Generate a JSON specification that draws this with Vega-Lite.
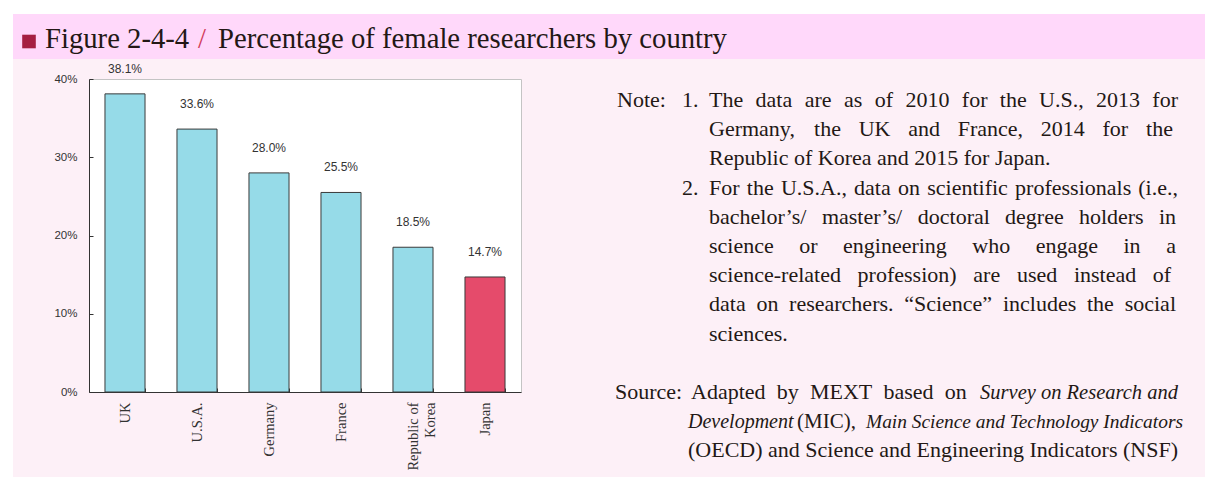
{
  "$schema": "https://vega.github.io/schema/vega-lite/v6.json",
  "padding": 0,
  "background": "#FDF0F7",
  "columns": 4,
  "spacing": 0,
  "bounds": "flush",
  "align": "each",
  "config": {"view": {"stroke": null}, "font": "Liberation Serif", "text": {"font": "Liberation Serif", "fontSize": 22, "color": "#231815", "baseline": "alphabetic", "align": "left"}},
  "concat": [
    {"width": 13, "height": 14, "view": {"fill": "#ffffff", "stroke": null}, "data": {"values": [{}]}, "mark": {"type": "text", "text": "", "fontSize": 1, "baseline": "middle"}},
    {"width": 76, "height": 14, "view": {"fill": "#ffffff", "stroke": null}, "data": {"values": [{}]}, "mark": {"type": "text", "text": "", "fontSize": 1, "baseline": "middle"}},
    {"width": 432, "height": 14, "view": {"fill": "#ffffff", "stroke": null}, "data": {"values": [{}]}, "mark": {"type": "text", "text": "", "fontSize": 1, "baseline": "middle"}},
    {"width": 684, "height": 14, "view": {"fill": "#ffffff", "stroke": null}, "data": {"values": [{}]}, "mark": {"type": "text", "text": "", "fontSize": 1, "baseline": "middle"}},

    {"width": 13, "height": 45, "view": {"fill": "#ffffff", "stroke": null}, "data": {"values": [{}]}, "mark": {"type": "text", "text": "", "fontSize": 1, "baseline": "middle"}},
    {"width": 76, "height": 45, "view": {"fill": "#FFD8FA", "stroke": null}, "data": {"values": [{}]}, "mark": {"type": "text", "text": "", "fontSize": 1, "baseline": "middle"}},
    {"width": 432, "height": 45, "view": {"fill": "#FFD8FA", "stroke": null}, "data": {"values": [{}]}, "mark": {"type": "text", "text": "", "fontSize": 1, "baseline": "middle"}},
    {
      "width": 684, "height": 45,
      "view": {"fill": "#FFD8FA", "stroke": null},
      "data": {"values": [{}]},
      "layer": [
        {"mark": {"type": "square", "size": 185, "x": -492, "y": 27.5, "color": "#A51F42", "opacity": 1, "filled": true}, "encoding": {}},
        {"mark": {"type": "text", "x": -476, "y": 34, "fontSize": 28.7, "text": "Figure 2-4-4"}, "encoding": {}},
        {"mark": {"type": "text", "x": -323, "y": 34, "fontSize": 28.7, "color": "#D23C5A", "text": "/"}, "encoding": {}},
        {"mark": {"type": "text", "x": -303, "y": 34, "fontSize": 28.7, "text": "Percentage of  female researchers by country"}, "encoding": {}}
      ]
    },

    {"width": 13, "height": 20, "view": {"fill": "#ffffff", "stroke": null}, "data": {"values": [{}]}, "mark": {"type": "text", "text": "", "fontSize": 1, "baseline": "middle"}},
    {"width": 76, "height": 20, "data": {"values": [{}]}, "mark": {"type": "text", "text": "", "fontSize": 1, "baseline": "middle"}},
    {"width": 432, "height": 20, "data": {"values": [{}]}, "mark": {"type": "text", "text": "", "fontSize": 1, "baseline": "middle"}},
    {"width": 684, "height": 20, "data": {"values": [{}]}, "mark": {"type": "text", "text": "", "fontSize": 1, "baseline": "middle"}},

    {"width": 13, "height": 398, "view": {"fill": "#ffffff", "stroke": null}, "data": {"values": [{}]}, "mark": {"type": "text", "text": "", "fontSize": 1, "baseline": "middle"}},
    {"width": 76, "height": 398, "data": {"values": [{}]}, "mark": {"type": "text", "text": "", "fontSize": 1, "baseline": "middle"}},
    {
      "width": 432, "height": 313,
      "view": {"fill": "#ffffff", "stroke": "#c4c4c4", "strokeWidth": 1},
      "data": {"values": [
        {"country": "UK", "share": 0.381},
        {"country": "U.S.A.", "share": 0.336},
        {"country": "Germany", "share": 0.280},
        {"country": "France", "share": 0.255},
        {"country": "Republic of Korea", "share": 0.185},
        {"country": "Japan", "share": 0.147}
      ]},
      "encoding": {
        "x": {
          "field": "country", "type": "nominal", "sort": null,
          "scale": {"paddingInner": 0.444, "paddingOuter": 0.222},
          "axis": {
            "title": null, "labelAngle": -90, "labelFont": "Liberation Serif", "labelFontSize": 14.5,
            "labelColor": "#333333", "domainColor": "#333333", "tickColor": "#333333",
            "tickBand": "extent", "tickSize": -4, "labelPadding": 14, "labelLineHeight": 17,
            "labelExpr": "datum.label == 'Republic of Korea' ? ['Republic of', 'Korea'] : datum.label"
          }
        },
        "y": {
          "field": "share", "type": "quantitative",
          "scale": {"domain": [0, 0.4]},
          "axis": {
            "title": null, "values": [0, 0.1, 0.2, 0.3, 0.4], "format": ".0%", "grid": false,
            "labelFont": "Liberation Sans", "labelFontSize": 11.5, "labelColor": "#333333",
            "domainColor": "#333333", "tickColor": "#333333", "tickSize": -4, "labelPadding": 16
          }
        }
      },
      "layer": [
        {
          "mark": {"type": "bar", "stroke": "#3a3a3a", "strokeWidth": 1},
          "encoding": {
            "color": {"condition": {"test": "datum.country == 'Japan'", "value": "#E54B6B"}, "value": "#96DBE8"}
          }
        },
        {
          "mark": {"type": "text", "dy": -25, "align": "center", "baseline": "middle", "font": "Liberation Sans", "fontSize": 12, "color": "#333333"},
          "encoding": {"text": {"field": "share", "type": "quantitative", "format": ".1%"}}
        }
      ]
    },
    {
      "width": 684, "height": 398,
      "data": {"values": [{}]},
      "layer": [
        {"mark": {"type": "text", "x": 96, "y": 28, "text": "Note:"}, "encoding": {}},
        {"mark": {"type": "text", "x": 161, "y": 28, "text": "1."}, "encoding": {}},
        {"mark": {"type": "text", "x": 188, "y": 28, "text": "The"}, "encoding": {}},
        {"mark": {"type": "text", "x": 234.6, "y": 28, "text": "data"}, "encoding": {}},
        {"mark": {"type": "text", "x": 283.7, "y": 28, "text": "are"}, "encoding": {}},
        {"mark": {"type": "text", "x": 323, "y": 28, "text": "as"}, "encoding": {}},
        {"mark": {"type": "text", "x": 353.7, "y": 28, "text": "of"}, "encoding": {}},
        {"mark": {"type": "text", "x": 384.4, "y": 28, "text": "2010"}, "encoding": {}},
        {"mark": {"type": "text", "x": 440.8, "y": 28, "text": "for"}, "encoding": {}},
        {"mark": {"type": "text", "x": 478.8, "y": 28, "text": "the"}, "encoding": {}},
        {"mark": {"type": "text", "x": 518.1, "y": 28, "text": "U.S.,"}, "encoding": {}},
        {"mark": {"type": "text", "x": 575.1, "y": 28, "text": "2013"}, "encoding": {}},
        {"mark": {"type": "text", "x": 657, "y": 28, "align": "right", "text": "for"}, "encoding": {}},

        {"mark": {"type": "text", "x": 188, "y": 57.2, "text": "Germany,"}, "encoding": {}},
        {"mark": {"type": "text", "x": 293.1, "y": 57.2, "text": "the"}, "encoding": {}},
        {"mark": {"type": "text", "x": 337.7, "y": 57.2, "text": "UK"}, "encoding": {}},
        {"mark": {"type": "text", "x": 387.2, "y": 57.2, "text": "and"}, "encoding": {}},
        {"mark": {"type": "text", "x": 436.7, "y": 57.2, "text": "France,"}, "encoding": {}},
        {"mark": {"type": "text", "x": 519.8, "y": 57.2, "text": "2014"}, "encoding": {}},
        {"mark": {"type": "text", "x": 581.5, "y": 57.2, "text": "for"}, "encoding": {}},
        {"mark": {"type": "text", "x": 652, "y": 57.2, "align": "right", "text": "the"}, "encoding": {}},

        {"mark": {"type": "text", "x": 188, "y": 86.4, "text": "Republic of  Korea and 2015 for Japan."}, "encoding": {}},

        {"mark": {"type": "text", "x": 161, "y": 115.6, "text": "2."}, "encoding": {}},
        {"mark": {"type": "text", "x": 188, "y": 115.6, "text": "For"}, "encoding": {}},
        {"mark": {"type": "text", "x": 225.8, "y": 115.6, "text": "the"}, "encoding": {}},
        {"mark": {"type": "text", "x": 259.9, "y": 115.6, "text": "U.S.A.,"}, "encoding": {}},
        {"mark": {"type": "text", "x": 333.1, "y": 115.6, "text": "data"}, "encoding": {}},
        {"mark": {"type": "text", "x": 377, "y": 115.6, "text": "on"}, "encoding": {}},
        {"mark": {"type": "text", "x": 406.2, "y": 115.6, "text": "scientific"}, "encoding": {}},
        {"mark": {"type": "text", "x": 494.1, "y": 115.6, "text": "professionals"}, "encoding": {}},
        {"mark": {"type": "text", "x": 657, "y": 115.6, "align": "right", "text": "(i.e.,"}, "encoding": {}},

        {"mark": {"type": "text", "x": 188, "y": 144.8, "text": "bachelor’s/"}, "encoding": {}},
        {"mark": {"type": "text", "x": 300.9, "y": 144.8, "text": "master’s/"}, "encoding": {}},
        {"mark": {"type": "text", "x": 396.8, "y": 144.8, "text": "doctoral"}, "encoding": {}},
        {"mark": {"type": "text", "x": 484.1, "y": 144.8, "text": "degree"}, "encoding": {}},
        {"mark": {"type": "text", "x": 557.9, "y": 144.8, "text": "holders"}, "encoding": {}},
        {"mark": {"type": "text", "x": 655, "y": 144.8, "align": "right", "text": "in"}, "encoding": {}},

        {"mark": {"type": "text", "x": 188, "y": 174, "text": "science"}, "encoding": {}},
        {"mark": {"type": "text", "x": 278.2, "y": 174, "text": "or"}, "encoding": {}},
        {"mark": {"type": "text", "x": 322, "y": 174, "text": "engineering"}, "encoding": {}},
        {"mark": {"type": "text", "x": 451.3, "y": 174, "text": "who"}, "encoding": {}},
        {"mark": {"type": "text", "x": 514.7, "y": 174, "text": "engage"}, "encoding": {}},
        {"mark": {"type": "text", "x": 602.5, "y": 174, "text": "in"}, "encoding": {}},
        {"mark": {"type": "text", "x": 655, "y": 174, "align": "right", "text": "a"}, "encoding": {}},

        {"mark": {"type": "text", "x": 188, "y": 203.2, "text": "science-related"}, "encoding": {}},
        {"mark": {"type": "text", "x": 336.6, "y": 203.2, "text": "profession)"}, "encoding": {}},
        {"mark": {"type": "text", "x": 452.3, "y": 203.2, "text": "are"}, "encoding": {}},
        {"mark": {"type": "text", "x": 495.9, "y": 203.2, "text": "used"}, "encoding": {}},
        {"mark": {"type": "text", "x": 552.9, "y": 203.2, "text": "instead"}, "encoding": {}},
        {"mark": {"type": "text", "x": 650, "y": 203.2, "align": "right", "text": "of"}, "encoding": {}},

        {"mark": {"type": "text", "x": 188, "y": 232.4, "text": "data"}, "encoding": {}},
        {"mark": {"type": "text", "x": 235.4, "y": 232.4, "text": "on"}, "encoding": {}},
        {"mark": {"type": "text", "x": 268.1, "y": 232.4, "text": "researchers."}, "encoding": {}},
        {"mark": {"type": "text", "x": 383.2, "y": 232.4, "text": "“Science”"}, "encoding": {}},
        {"mark": {"type": "text", "x": 481.9, "y": 232.4, "text": "includes"}, "encoding": {}},
        {"mark": {"type": "text", "x": 565.9, "y": 232.4, "text": "the"}, "encoding": {}},
        {"mark": {"type": "text", "x": 655, "y": 232.4, "align": "right", "text": "social"}, "encoding": {}},

        {"mark": {"type": "text", "x": 188, "y": 261.6, "text": "sciences."}, "encoding": {}},

        {"mark": {"type": "text", "x": 94, "y": 320, "text": "Source:"}, "encoding": {}},
        {"mark": {"type": "text", "x": 170, "y": 320, "text": "Adapted"}, "encoding": {}},
        {"mark": {"type": "text", "x": 255.7, "y": 320, "text": "by"}, "encoding": {}},
        {"mark": {"type": "text", "x": 288.9, "y": 320, "text": "MEXT"}, "encoding": {}},
        {"mark": {"type": "text", "x": 362.4, "y": 320, "text": "based"}, "encoding": {}},
        {"mark": {"type": "text", "x": 423.7, "y": 320, "text": "on"}, "encoding": {}},
        {"mark": {"type": "text", "x": 657, "y": 320, "align": "right", "fontSize": 20.5, "fontStyle": "italic", "text": "Survey on Research and"}, "encoding": {}},
        {"mark": {"type": "text", "x": 167, "y": 349.2, "fontSize": 20, "fontStyle": "italic", "text": "Development"}, "encoding": {}},
        {"mark": {"type": "text", "x": 276, "y": 349.2, "fontSize": 21, "text": "(MIC),"}, "encoding": {}},
        {"mark": {"type": "text", "x": 662, "y": 349.2, "align": "right", "fontSize": 19.4, "fontStyle": "italic", "text": "Main Science and Technology Indicators"}, "encoding": {}},
        {"mark": {"type": "text", "x": 167, "y": 378.4, "text": "(OECD) and Science and Engineering Indicators (NSF)"}, "encoding": {}}
      ]
    }
  ]
}
